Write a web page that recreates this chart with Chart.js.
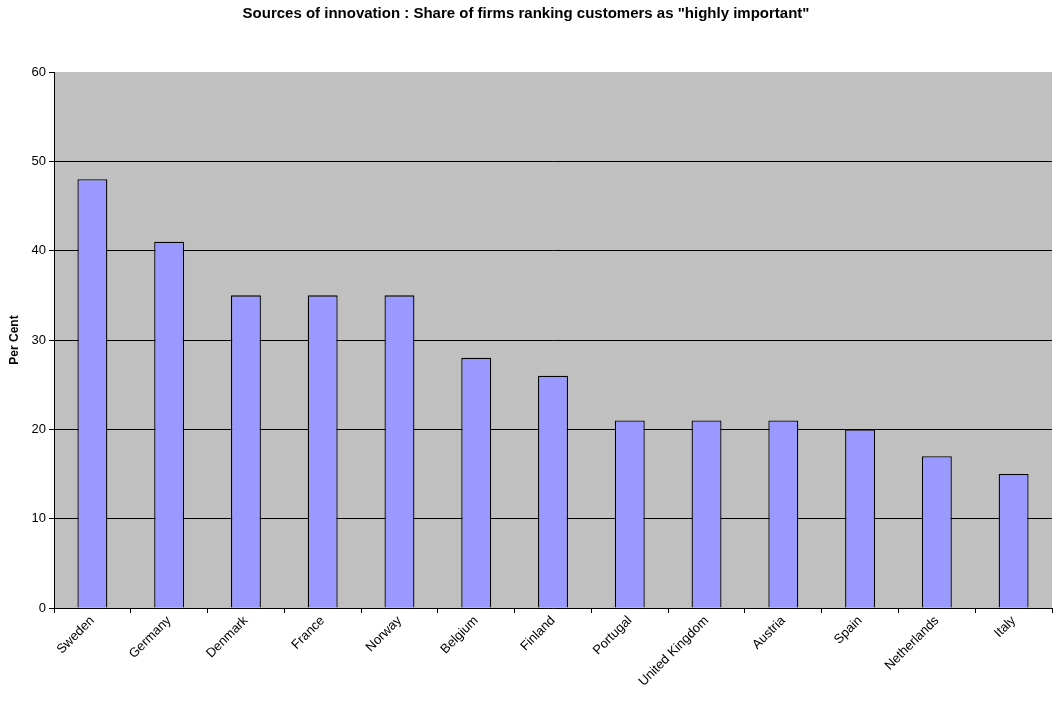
<!DOCTYPE html>
<html>
<head>
<meta charset="utf-8">
<script src="https://cdn.jsdelivr.net/npm/chart.js@4/dist/chart.umd.min.js"></script>
<style>
  html, body { margin: 0; padding: 0; background: #fff; }
  #wrap { width: 1054px; height: 714px; }
</style>
</head>
<body>
<div id="wrap"><canvas id="canvas"></canvas></div>
<script>
const countries = ["Sweden", "Germany", "Denmark", "France", "Norway", "Belgium", "Finland",
  "Portugal", "United Kingdom", "Austria", "Spain", "Netherlands", "Italy"];
const perCent = [48, 41, 35, 35, 35, 28, 26, 21, 21, 21, 20, 17, 15];
const yTicks = [0, 10, 20, 30, 40, 50, 60];

// grey plot background like the old spreadsheet charts
const plotBackground = {
  id: 'plotBackground',
  beforeDraw(chart) {
    const { ctx, chartArea: a } = chart;
    ctx.save();
    ctx.fillStyle = '#C0C0C0';
    ctx.fillRect(a.left, a.top, a.right - a.left, a.bottom - a.top);
    ctx.restore();
  }
};

Chart.defaults.font.family = 'Liberation Sans, Arial, sans-serif';
Chart.defaults.color = '#000';

let ctx = document.getElementById('canvas').getContext('2d');
new Chart(ctx, {
  type: 'bar',
  data: {
    labels: countries,
    datasets: [{
      label: 'Per Cent',
      data: perCent,
      backgroundColor: '#9999FF',
      borderColor: '#000',
      borderWidth: 1.3,
      barPercentage: 0.39,
      categoryPercentage: 1
    }]
  },
  options: {
    responsive: true,
    maintainAspectRatio: false,
    animation: false,
    layout: { padding: { right: 2 } },
    plugins: {
      legend: { display: false },
      tooltip: { enabled: false },
      title: {
        display: true,
        text: 'Sources of innovation : Share of firms ranking customers as "highly important"',
        font: { size: 15, weight: 'bold' },
        color: '#000',
        padding: { top: 5, bottom: 49 }
      }
    },
    scales: {
      x: {
        offset: true,
        grid: {
          offset: true,
          drawOnChartArea: false,
          tickLength: 5,
          tickColor: '#000'
        },
        border: { color: '#000', width: 1 },
        ticks: {
          minRotation: 45,
          maxRotation: 45,
          font: { size: 13 },
          color: '#000',
          padding: 0
        },
        afterFit(scale) { scale.height = 106; }
      },
      y: {
        min: 0,
        max: 60,
        afterBuildTicks(scale) { scale.ticks = yTicks.map(v => ({ value: v })); },
        grid: {
          color: c => (c.tick.value === 0 || c.tick.value === 60) ? 'rgba(0,0,0,0)' : '#000',
          tickLength: 5,
          tickColor: '#000'
        },
        border: { color: '#000', width: 1 },
        ticks: { font: { size: 13 }, color: '#000', padding: 3 },
        title: {
          display: true,
          text: 'Per Cent',
          font: { size: 12, weight: 'bold' },
          color: '#000',
          padding: { top: 7, bottom: 0 }
        },
        afterFit(scale) { scale.width = 54; }
      }
    }
  },
  plugins: [plotBackground]
});
</script>
</body>
</html>
